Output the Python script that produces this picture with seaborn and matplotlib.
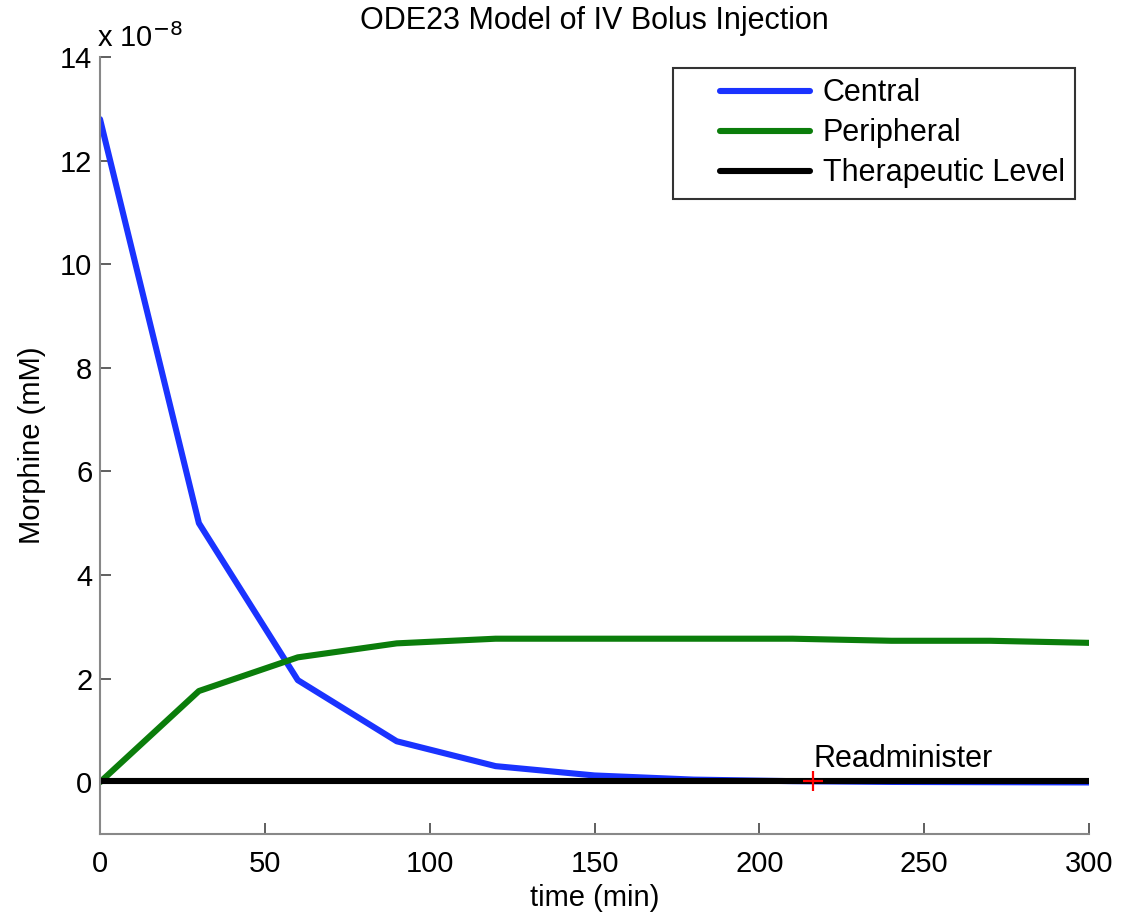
import matplotlib
matplotlib.use("Agg")
import matplotlib.pyplot as plt
from matplotlib.lines import Line2D
from matplotlib.legend_handler import HandlerLine2D
from matplotlib.ticker import FuncFormatter
import numpy as np
import pandas as pd
import seaborn as sns

# ==================== DATA ====================
time_min = [0, 30, 60, 90, 120, 150, 180, 210, 240, 270, 300]
central = [12.8e-8, 5.0e-8, 1.97e-8, 0.79e-8, 0.31e-8, 0.13e-8,
           0.05e-8, 0.02e-8, 0.005e-8, 0.0, -0.005e-8]
peripheral = [0.0, 1.76e-8, 2.41e-8, 2.68e-8, 2.77e-8, 2.77e-8,
              2.77e-8, 2.77e-8, 2.73e-8, 2.73e-8, 2.69e-8]
therapeutic_t = [0, 300]
therapeutic = [0.03e-8, 0.03e-8]
readminister_t = 216.3
readminister_y = 0.03e-8
SCALE = 1e-8

df = pd.DataFrame({"time": time_min, "Central": central, "Peripheral": peripheral})
df_ther = pd.DataFrame({"time": therapeutic_t, "Therapeutic Level": therapeutic})

# ==================== PLOT ====================
sns.set_style("white", {"text.color": "black", "axes.labelcolor": "black",
                        "xtick.color": "black", "ytick.color": "black"})
plt.rcParams['font.family'] = ['Liberation Sans', 'DejaVu Sans']
FS = 21
LW = 4.4

fig = plt.figure(figsize=(11.25, 9.19), dpi=100)
ax = fig.add_axes([0.0889, 0.0925, 0.8791, 0.8455])

sns.lineplot(data=df, x="time", y="Central", ax=ax, color="#1a33ff", linewidth=LW, label="Central")
sns.lineplot(data=df, x="time", y="Peripheral", ax=ax, color="#0b7d0b", linewidth=LW, label="Peripheral")
sns.lineplot(data=df_ther, x="time", y="Therapeutic Level", ax=ax, color="black", linewidth=LW,
             label="Therapeutic Level")
ax.plot([readminister_t], [readminister_y], marker="+", color="red", ms=14, mew=1.6, ls="none")
ax.text(readminister_t, readminister_y + 0.13e-8, "Readminister", fontsize=22,
        ha="left", va="bottom")

ax.set_xlim(0, 300)
ax.set_ylim(-1e-8, 14e-8)
ax.set_xticks([0, 50, 100, 150, 200, 250, 300])
ax.set_yticks(np.arange(0, 15, 2) * SCALE)
ax.yaxis.set_major_formatter(FuncFormatter(lambda v, p: f"{v / SCALE:g}"))
ax.tick_params(direction="in", length=8, width=1.2, color="#444444", labelsize=FS,
               bottom=True, left=True)
ax.tick_params(axis="x", pad=11.5)
ax.tick_params(axis="y", pad=5.5)

for side in ["top", "right"]:
    ax.spines[side].set_visible(False)
for side in ["left", "bottom"]:
    ax.spines[side].set_color("#888888")
    ax.spines[side].set_linewidth(1.5)

ax.set_xlabel("time (min)", fontsize=FS, labelpad=4)
ax.set_ylabel("Morphine (mM)", fontsize=FS, labelpad=10)
ax.set_title("ODE23 Model of IV Bolus Injection", fontsize=22, pad=20)
ax.text(-0.003, 1.005, r"x 10$^{-8}$", transform=ax.transAxes, fontsize=FS, ha="left", va="bottom")

leg = ax.legend(loc="upper right", fontsize=22, frameon=True, fancybox=False,
                borderpad=0.34, borderaxespad=0, handlelength=4.15, handletextpad=0.42,
                labelspacing=0.33, bbox_to_anchor=(0.986, 0.986),
                handler_map={Line2D: HandlerLine2D(xpad=1.2)})
leg.get_frame().set_edgecolor("black")
leg.get_frame().set_linewidth(1.5)
for line in leg.get_lines():
    line.set_linewidth(LW)

fig.savefig("out.png", dpi=100)
